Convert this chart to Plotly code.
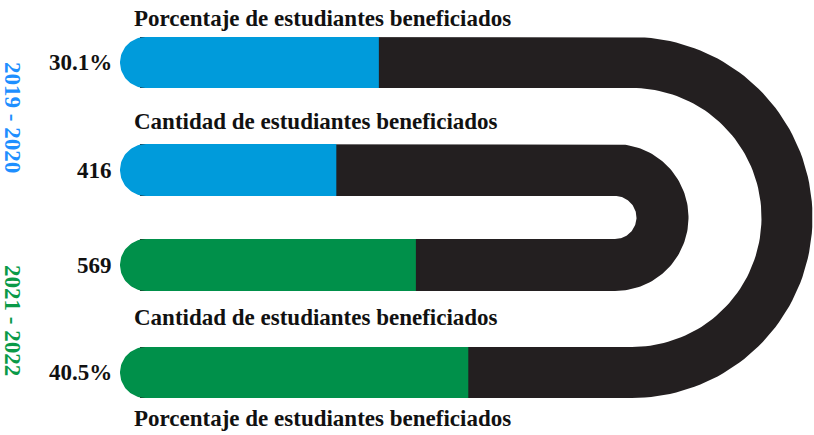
import numpy as np
import plotly.graph_objects as go

# ---- data ----
periods = ["2019 - 2020", "2021 - 2022"]
metric_titles = ["Porcentaje de estudiantes beneficiados", "Cantidad de estudiantes beneficiados"]
pct_values = [30.1, 40.5]          # % of students benefited
count_values = [416, 569]          # number of students benefited
pct_labels = ["30.1%", "40.5%"]
count_labels = ["416", "569"]

# ---- style / geometry ----
BLUE = "#009BDB"
GREEN = "#00904A"
BLACK = "#231F20"
BLUE_TXT = "#1E8FFF"
GREEN_TXT = "#0A9A48"
FONT = "Liberation Serif"

X0 = 120            # left edge of the tracks
PCT_SCALE = 8.6     # track units per percentage point
CNT_SCALE = 0.52    # track units per student

CY = 217.5
outer = dict(cx=632, r_out=180.5, r_in=129.5)
inner = dict(cx=615, r_out=73.5, r_in=21.5)

fig = go.Figure()


def u_track(cx, r_out, r_in, xstart):
    th = np.linspace(-np.pi / 2, np.pi / 2, 90)
    xs = [xstart]
    ys = [CY - r_out]
    xs += list(cx + r_out * np.cos(th))
    ys += list(CY + r_out * np.sin(th))
    xs += [xstart, xstart]
    ys += [CY + r_out, CY + r_in]
    xs += list(cx + r_in * np.cos(th[::-1]))
    ys += list(CY + r_in * np.sin(th[::-1]))
    xs += [xstart, xstart]
    ys += [CY - r_in, CY - r_out]
    return xs, ys


for g in (outer, inner):
    xs, ys = u_track(g["cx"], g["r_out"], g["r_in"], X0 + 20)
    fig.add_trace(go.Scatter(x=xs, y=ys, mode="lines", fill="toself",
                             fillcolor=BLACK, line=dict(width=0, color=BLACK),
                             hoverinfo="skip", showlegend=False))


def bar(c, h, length, color, name):
    xend = X0 + length
    th = np.linspace(np.pi / 2, 3 * np.pi / 2, 50)
    xs = [xend, X0 + h] + list(X0 + h + h * np.cos(th)) + [X0 + h, xend, xend]
    ys = [c - h, c - h] + list(c + h * np.sin(th)) + [c + h, c + h, c - h]
    fig.add_trace(go.Scatter(x=xs, y=ys, mode="lines", fill="toself",
                             fillcolor=color, line=dict(width=0, color=color),
                             name=name, hoverinfo="name", showlegend=False))


rows = [
    (CY - (outer["r_out"] + outer["r_in"]) / 2, (outer["r_out"] - outer["r_in"]) / 2,
     pct_values[0] * PCT_SCALE, BLUE, pct_labels[0]),
    (CY - (inner["r_out"] + inner["r_in"]) / 2, (inner["r_out"] - inner["r_in"]) / 2,
     count_values[0] * CNT_SCALE, BLUE, count_labels[0]),
    (CY + (inner["r_out"] + inner["r_in"]) / 2, (inner["r_out"] - inner["r_in"]) / 2,
     count_values[1] * CNT_SCALE, GREEN, count_labels[1]),
    (CY + (outer["r_out"] + outer["r_in"]) / 2, (outer["r_out"] - outer["r_in"]) / 2,
     pct_values[1] * PCT_SCALE, GREEN, pct_labels[1]),
]

for c, h, length, color, lab in rows:
    bar(c, h, length, color, lab)
    fig.add_annotation(x=X0 - 6, y=c, text="<b>" + lab + "</b>", xanchor="right",
                       yanchor="middle", showarrow=False,
                       font=dict(family=FONT, size=23, color="#111"))

title_pos = [(18, metric_titles[0]), (121, metric_titles[1]),
             (317, metric_titles[1]), (418, metric_titles[0])]
for y, t in title_pos:
    fig.add_annotation(x=X0 + 12, y=y, text="<b>" + t + "</b>", xanchor="left",
                       yanchor="middle", showarrow=False,
                       font=dict(family=FONT, size=23, color="#111"))

for y, t, col in [(117, periods[0], BLUE_TXT), (320, periods[1], GREEN_TXT)]:
    fig.add_annotation(x=13, y=y, text="<b>" + t + "</b>", textangle=90,
                       xanchor="center", yanchor="middle", showarrow=False,
                       font=dict(family=FONT, size=23, color=col))

fig.update_xaxes(range=[0, 814], visible=False, fixedrange=True)
fig.update_yaxes(range=[435, 0], visible=False, fixedrange=True)
fig.update_layout(width=814, height=435, margin=dict(l=0, r=0, t=0, b=0),
                  plot_bgcolor="white", paper_bgcolor="white")

fig.write_html("out.html", config={"displayModeBar": False},
               post_script="document.body.style.margin='0';document.body.style.overflow='hidden';")
